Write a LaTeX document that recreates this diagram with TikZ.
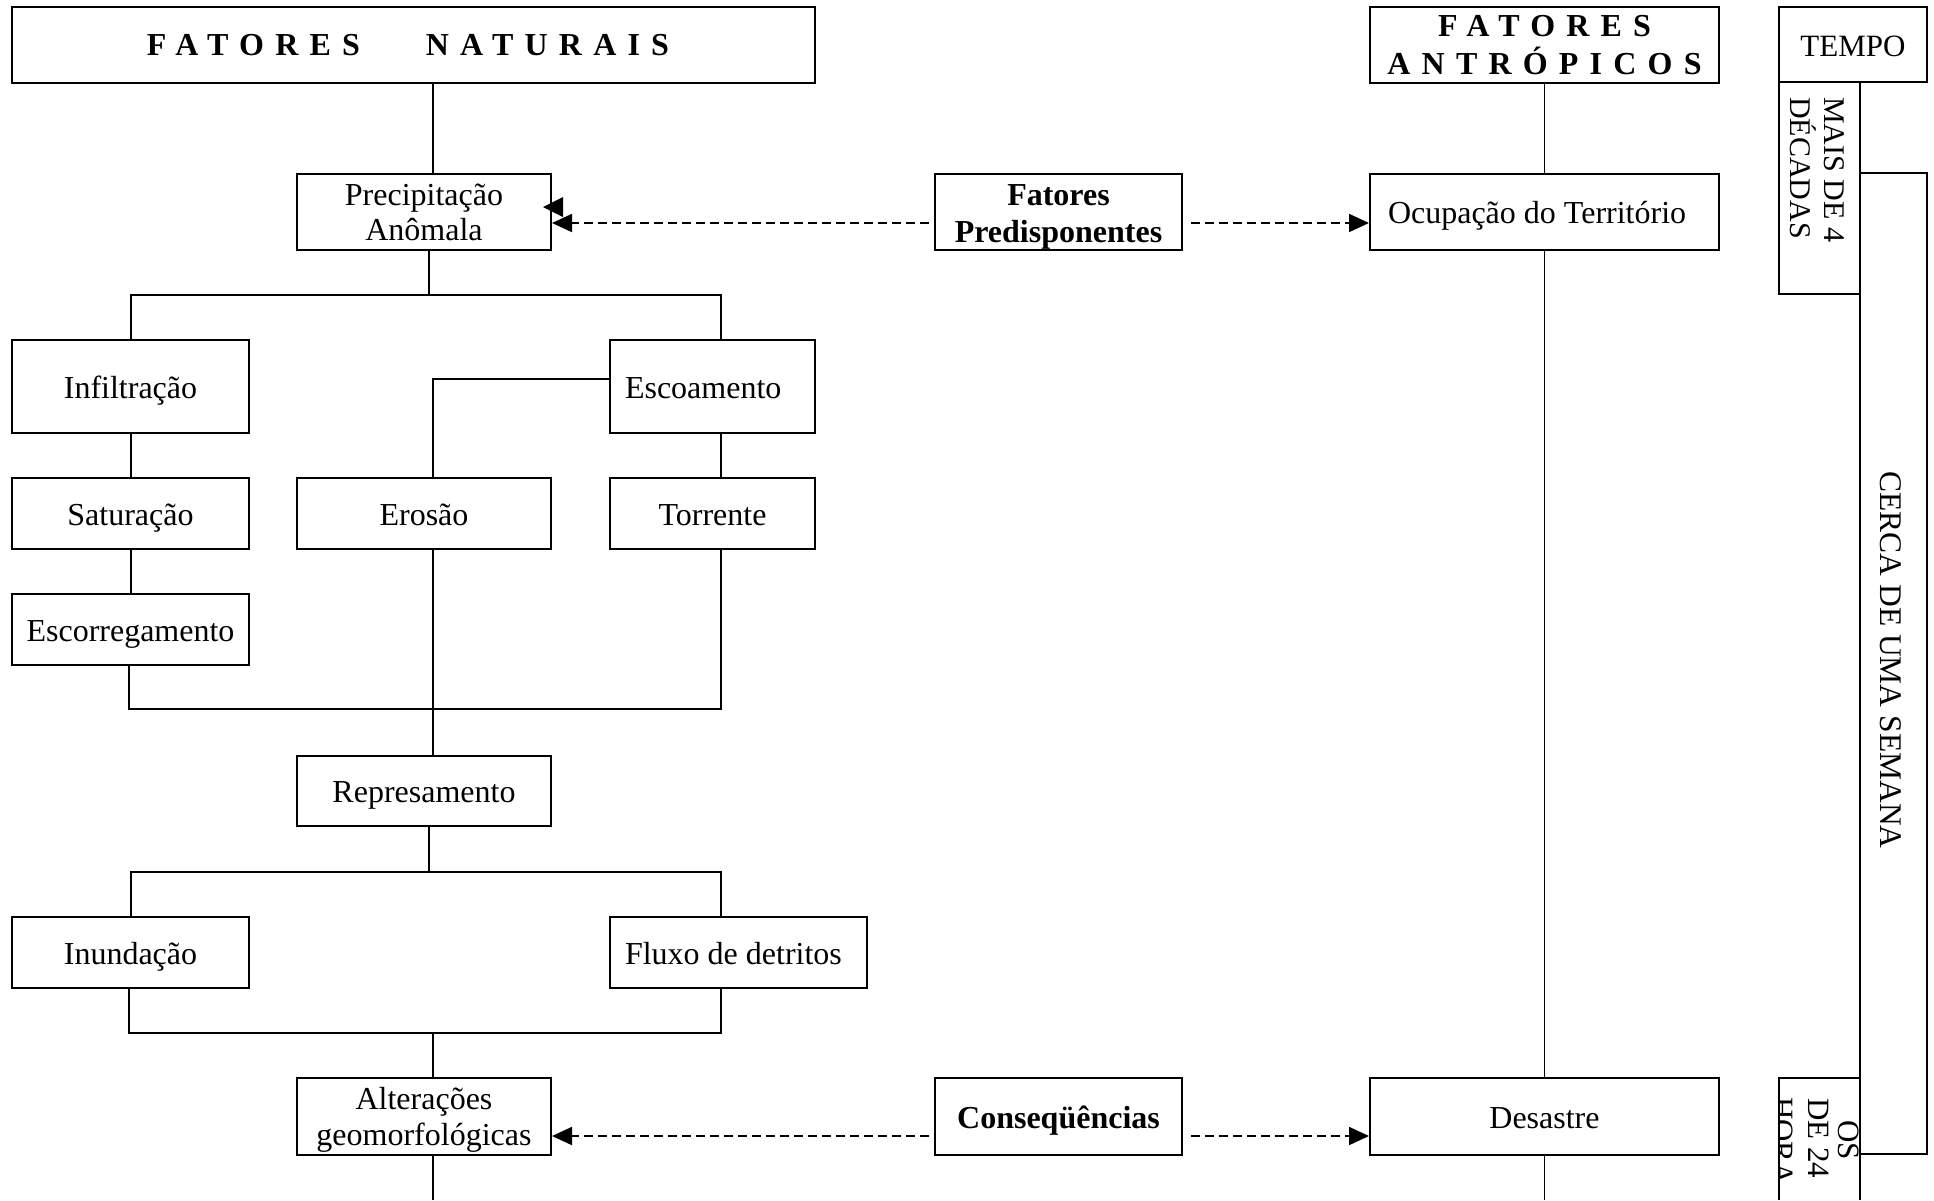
\documentclass[tikz,border=0pt]{standalone}
\usepackage{fontspec}
\setmainfont{Liberation Serif}
\newfontfamily\spacedfont[LetterSpace=35]{Liberation Serif}
\usetikzlibrary{arrows.meta}
\begin{document}
\begin{tikzpicture}[x=1pt,y=-1pt,
  box/.style={draw, line width=2pt, inner sep=0pt, align=center, font=\fontsize{32}{35}\selectfont},
  one/.style={text height=23pt, text depth=0pt},
  boldbox/.style={box, font=\fontsize{32}{35}\selectfont\bfseries},
  spacedbox/.style={box, font=\fontsize{32}{38}\selectfont\spacedfont\bfseries},
  conn/.style={line width=1.4pt},
  darrow/.style={line width=1.8pt, dash pattern=on 9pt off 5pt, -{Triangle[length=20pt,width=18pt]}},
  rot/.style={rotate=-90, inner sep=0pt, align=left}
]
\useasboundingbox (0,0) rectangle (1934,1200);
\fill[white] (0,0) rectangle (1934,1200);

\coordinate (xa) at (433,0);
\coordinate (xp) at (429,0);
\coordinate (xl) at (131,0);
\coordinate (xl2) at (129,0);
\coordinate (xr) at (721,0);
\coordinate (b1) at (0,295);
\coordinate (e1) at (0,379);
\coordinate (b2) at (0,709);
\coordinate (b3) at (0,872);
\coordinate (b4) at (0,1033);
\coordinate (bot) at (0,1200);
\coordinate (ya) at (0,223);
\coordinate (yb) at (0,1136);

% natural factors
\node[spacedbox, minimum width=803pt, minimum height=76pt] (fn) at (413.5,45) {FATORES\hspace{66pt}NATURAIS\hspace*{11pt}};
\node[box, minimum width=254pt, minimum height=76pt] (prec) at (424,212) {Precipitação\\Anômala};
\node[box, one, minimum width=237pt, minimum height=93pt] (infil) at (130.5,386.5) {Infiltração};
\node[box, one, align=flush left, inner xsep=15pt, text width=175pt, minimum height=93pt] (escoa) at (712.5,386.5) {Escoamento};
\node[box, one, minimum width=237pt, minimum height=71pt] (satur) at (130.5,513.5) {Saturação};
\node[box, one, minimum width=254pt, minimum height=71pt] (eros) at (424,513.5) {Erosão};
\node[box, one, minimum width=205pt, minimum height=71pt] (torr) at (712.5,513.5) {Torrente};
\node[box, one, minimum width=237pt, minimum height=71pt] (escor) at (130.5,629.5) {Escorregamento};
\node[box, one, minimum width=254pt, minimum height=70pt] (repr) at (424,791) {Represamento};
\node[box, one, minimum width=237pt, minimum height=71pt] (inund) at (130.5,952.5) {Inundação};
\node[box, one, align=flush left, inner xsep=15pt, text width=227pt, minimum height=71pt] (fluxo) at (738.5,952.5) {Fluxo de detritos};
\node[box, minimum width=254pt, minimum height=77pt] (alter) at (424,1116.5) {\rule{0pt}{28pt}Alterações\\[1pt]geomorfológicas};

% middle
\node[boldbox, minimum width=247pt, minimum height=76pt] (fpred) at (1058.5,212) {\rule{0pt}{31pt}Fatores\\[2pt]Predisponentes};
\node[boldbox, one, minimum width=247pt, minimum height=77pt] (cons) at (1058.5,1116.5) {Conseqüências};

% anthropic factors
\node[spacedbox, minimum width=349pt, minimum height=76pt] (fa) at (1544.5,45) {FATORES\\ANTRÓPICOS};
\node[box, one, align=flush left, inner xsep=18pt, text width=313pt, minimum height=76pt] (ocup) at (1544.5,212) {Ocupação do Território};
\node[box, one, minimum width=349pt, minimum height=77pt] (desas) at (1544.5,1116.5) {Desastre};

% time column
\node[box, one, minimum width=148pt, minimum height=75pt, font=\fontsize{31}{34}\selectfont] (tempo) at (1853,44.5) {TEMPO};
\node[box, minimum width=81pt, minimum height=212pt] (mais) at (1819.5,188) {};
\node[rot, anchor=north west, font=\fontsize{30}{34}\selectfont] (maistxt) at (1845,97) {MAIS DE 4\\DÉCADAS};
\node[box, minimum width=67pt, minimum height=981pt] (cerca) at (1893.5,663.5) {};
\node[rot, font=\fontsize{31.5}{34}\selectfont] (cercatxt) at (1891,660) {CERCA DE UMA SEMANA};
\coordinate (h1) at (1779,1200);
\coordinate (h2) at (1779,1078);
\coordinate (h3) at (1860,1078);
\coordinate (h4) at (1860,1200);
\draw[line width=2pt] (h1) -- (h2) -- (h3) -- (h4);
\begin{scope}
\clip (h2) rectangle (h4);
\node[rot, anchor=north west, font=\fontsize{31}{34}\selectfont] (os) at (1859,1120) {OS};
\node[rot, anchor=north west, font=\fontsize{31}{34}\selectfont] (de) at (1829,1098) {DE 24};
\node[rot, anchor=north west, font=\fontsize{31}{34}\selectfont] (hora) at (1793,1097) {HORA};
\end{scope}

% connectors
\draw[conn] (fn.south -| xa) -- (prec.north -| xa);
\draw[conn] (prec.south -| xp) -- (xp |- b1);
\draw[conn] (infil.north -| xl) -- (xl |- b1) -- (xr |- b1) -- (escoa.north -| xr);
\draw[conn] (escoa.west |- e1) -- (xa |- e1) -- (eros.north -| xa);
\draw[conn] (infil.south -| xl) -- (satur.north -| xl);
\draw[conn] (escoa.south -| xr) -- (torr.north -| xr);
\draw[conn] (satur.south -| xl) -- (escor.north -| xl);
\draw[conn] (escor.south -| xl2) -- (xl2 |- b2) -- (xr |- b2) -- (torr.south -| xr);
\draw[conn] (eros.south -| xa) -- (repr.north -| xa);
\draw[conn] (repr.south -| xp) -- (xp |- b3);
\draw[conn] (inund.north -| xl) -- (xl |- b3) -- (xr |- b3) -- (fluxo.north -| xr);
\draw[conn] (inund.south -| xl2) -- (xl2 |- b4) -- (xr |- b4) -- (fluxo.south -| xr);
\draw[conn] (xa |- b4) -- (alter.north -| xa);
\draw[conn] (alter.south -| xa) -- (xa |- bot);
\draw[conn] (fa.south) -- (ocup.north);
\draw[conn] (ocup.south) -- (desas.north);
\draw[conn] (desas.south) -- (desas.south |- bot);

% dashed arrows
\draw[darrow, shorten <=5pt] (fpred.west |- ya) -- (prec.east |- ya);
\draw[darrow, shorten <=8pt] (fpred.east |- ya) -- (ocup.west |- ya);
\draw[darrow, shorten <=5pt] (cons.west |- yb) -- (alter.east |- yb);
\draw[darrow, shorten <=8pt] (cons.east |- yb) -- (desas.west |- yb);
\fill (543,207) -- (563,197) -- (563,217) -- cycle;
\end{tikzpicture}
\end{document}
